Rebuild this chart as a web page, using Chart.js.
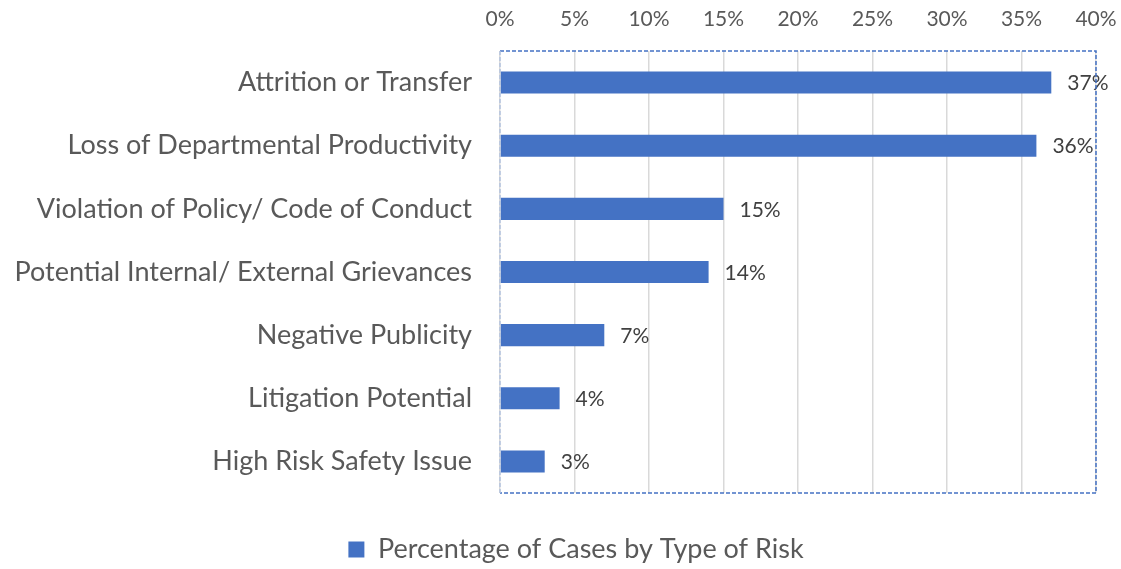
<!DOCTYPE html>
<html>
<head>
<meta charset="utf-8">
<script src="https://cdn.jsdelivr.net/npm/chart.js@4.4.0/dist/chart.umd.min.js"></script>
<style>
html,body{margin:0;padding:0;background:#fff;}
#wrap{width:1121px;height:569px;position:relative;}
</style>
</head>
<body>
<div id="wrap"><canvas id="c" width="1121" height="569"></canvas></div>
<script>
const categories = [
  "Attrition or Transfer",
  "Loss of Departmental Productivity",
  "Violation of Policy/ Code of Conduct",
  "Potential Internal/ External Grievances",
  "Negative Publicity",
  "Litigation Potential",
  "High Risk Safety Issue"
];
const values = [37, 36, 15, 14, 7, 4, 3];
const seriesName = "Percentage of Cases by Type of Risk";
const tickValues = [0, 5, 10, 15, 20, 25, 30, 35, 40];

const FONT = "Lato, 'Open Sans', sans-serif";

const barLabels = {
  id: 'barLabels',
  afterDatasetsDraw(chart) {
    const ctx = chart.ctx;
    const meta = chart.getDatasetMeta(0);
    ctx.save();
    ctx.font = "21px " + FONT;
    ctx.fillStyle = "#404040";
    ctx.textAlign = "left";
    ctx.textBaseline = "middle";
    meta.data.forEach((bar, i) => {
      ctx.fillText(values[i] + "%", bar.x + 16, bar.y + 1);
    });
    ctx.restore();
  }
};

const dashedBorder = {
  id: 'dashedBorder',
  afterDraw(chart) {
    const a = chart.chartArea;
    const ctx = chart.ctx;
    ctx.save();
    ctx.lineWidth = 1.5;
    ctx.setLineDash([4, 2]);
    ctx.strokeStyle = "#4472C4";
    ctx.beginPath();
    ctx.moveTo(a.left, a.top);
    ctx.lineTo(a.right, a.top);
    ctx.lineTo(a.right, a.bottom);
    ctx.lineTo(a.left, a.bottom);
    ctx.stroke();
    ctx.strokeStyle = "#B4C3E0";
    ctx.beginPath();
    ctx.moveTo(a.left, a.bottom);
    ctx.lineTo(a.left, a.top);
    ctx.stroke();
    ctx.restore();
  }
};

const legendShift = {
  id: 'legendShift',
  afterLayout(chart) {
    if (chart.legend) {
      chart.legend.left += 28;
      chart.legend.right += 28;
      chart.legend.top += 4;
      chart.legend.bottom += 4;
    }
  }
};

new Chart(document.getElementById('c'), {
  type: 'bar',
  data: {
    labels: categories,
    datasets: [{
      label: seriesName,
      data: values,
      backgroundColor: "#4472C4",
      borderWidth: 0,
      barPercentage: 0.35,
      categoryPercentage: 1.0
    }]
  },
  options: {
    indexAxis: 'y',
    responsive: false,
    animation: false,
    devicePixelRatio: 1,
    layout: { padding: { left: 0, right: 25, top: 0, bottom: 0 } },
    scales: {
      x: {
        position: 'top',
        min: 0,
        max: 40,
        afterBuildTicks(scale) { scale.ticks = tickValues.map(v => ({ value: v })); },
        afterFit(scale) { scale.height = 51; scale.paddingLeft = 0; scale.paddingRight = 10; },
        ticks: {
          callback: v => v + "%",
          font: { family: FONT, size: 21 },
          color: "#595959",
          padding: 19
        },
        grid: { color: "#D9D9D9", lineWidth: 1.5, drawTicks: false },
        border: { display: false }
      },
      y: {
        afterFit(scale) { scale.width = 500; },
        ticks: {
          font: { family: FONT, size: 27 },
          color: "#595959",
          padding: 28
        },
        grid: { display: false, drawTicks: false },
        border: { display: false }
      }
    },
    plugins: {
      legend: {
        position: 'bottom',
        labels: {
          font: { family: FONT, size: 27 },
          color: "#595959",
          boxWidth: 16,
          boxHeight: 16,
          padding: 39
        }
      },
      tooltip: { enabled: false }
    }
  },
  plugins: [barLabels, dashedBorder, legendShift]
});
</script>
</body>
</html>
